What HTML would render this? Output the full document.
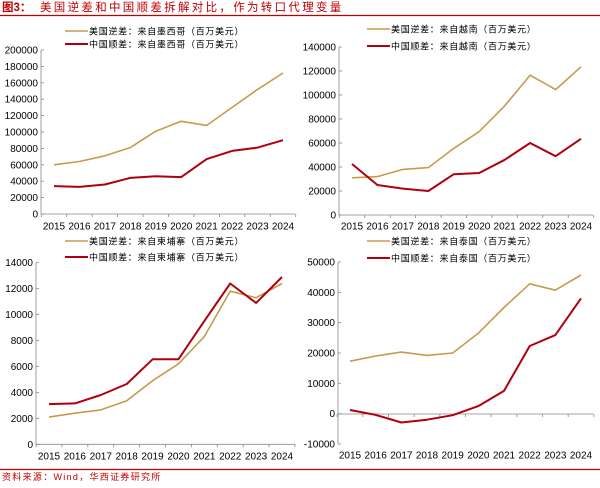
<!DOCTYPE html>
<html><head><meta charset="utf-8"><style>
body{margin:0;background:#fff;width:600px;height:483px;overflow:hidden}
svg text{font-family:"Liberation Sans","Noto Sans CJK SC",sans-serif}
</style></head><body>
<svg id="s" width="600" height="483" xmlns="http://www.w3.org/2000/svg"></svg>
<script>
const s=document.getElementById('s');let h='';
const SF='font-family="Noto Serif CJK SC, serif"';
h+=`<text x="2" y="11" font-size="11.5" fill="#c00000" font-weight="bold" ${SF}>图3：</text>`;
h+=`<text x="40" y="11" font-size="11.5" fill="#c00000" letter-spacing="2.3" ${SF}>美国逆差和中国顺差拆解对比，作为转口代理变量</text>`;
h+='<line x1="0" y1="15.5" x2="600" y2="15.5" stroke="#c00000" stroke-width="1.2"/>';
h+='<line x1="0" y1="469.5" x2="600" y2="469.5" stroke="#c00000" stroke-width="1.2"/>';
h+=`<text x="2" y="480" font-size="9" fill="#c00000" letter-spacing="1.3" ${SF}>资料来源：Wind，华西证券研究所</text>`;
const P=[
{ax:41,x0:54,x1:283,right:295,ymax:200000,ymin:0,step:20000,yt:50,yb:214,y0:214,lab:226,ly:[31,44],lx:65,name:'墨西哥',
us:[60000,64000,71000,81000,101000,113000,108000,130000,152000,172000],cn:[34000,33000,36000,44000,46000,45000,67000,77000,81000,90000]},
{ax:339,x0:352,x1:581,right:593,ymax:140000,ymin:0,step:20000,yt:47,yb:215,y0:215,lab:226,ly:[29,46],lx:367,name:'越南',
us:[31000,32000,38000,39500,55500,69500,91000,116500,104500,123500],cn:[42500,25000,22000,20000,34000,35000,46000,60000,49000,63500]},
{ax:36,x0:49,x1:282,right:295,ymax:14000,ymin:0,step:2000,yt:262.7,yb:444.3,y0:444.3,lab:456,ly:[241,257],lx:65,name:'柬埔寨',
us:[2100,2400,2650,3350,4900,6200,8300,11800,11300,12400],cn:[3100,3150,3800,4650,6550,6550,9500,12400,10900,12900]},
{ax:338,x0:350,x1:581,right:593,ymax:50000,ymin:-10000,step:10000,yt:262,yb:444,y0:414,lab:455,ly:[241,258],lx:367,name:'泰国',
us:[17300,19000,20300,19200,20000,26500,35000,42800,40700,45700],cn:[1200,-400,-2900,-2000,-500,2500,7500,22300,25900,38000]}];
for(const p of P){
 const Y=v=>p.yb-(v-p.ymin)/(p.ymax-p.ymin)*(p.yb-p.yt);
 const dx=(p.x1-p.x0)/9;const X=i=>p.x0+i*dx;
 h+=`<line x1="${p.ax}" y1="${p.yt}" x2="${p.ax}" y2="${p.yb}" stroke="#888" stroke-width="0.8"/>`;
 h+=`<line x1="${p.ax}" y1="${p.y0}" x2="${p.right}" y2="${p.y0}" stroke="#888" stroke-width="0.8"/>`;
 for(let v=p.ymin;v<=p.ymax;v+=p.step){const y=Y(v);
  h+=`<line x1="${p.ax}" y1="${y}" x2="${p.ax+3}" y2="${y}" stroke="#888" stroke-width="0.8"/>`;
  h+=`<text x="${p.ax-3}" y="${y+3.5}" font-size="10" text-anchor="end" fill="#000">${v}</text>`;}
 for(let i=0;i<=10;i++){const x=p.x0-dx/2+i*dx;h+=`<line x1="${x}" y1="${p.y0}" x2="${x}" y2="${p.y0+3}" stroke="#888" stroke-width="0.8"/>`;}
 for(let i=0;i<10;i++)h+=`<text x="${X(i)}" y="${p.lab+3.5}" font-size="10" text-anchor="middle">${2015+i}</text>`;
 const pl=(d,c,w)=>`<polyline fill="none" stroke="${c}" stroke-width="${w}" stroke-linejoin="round" points="${d.map((v,i)=>X(i).toFixed(1)+','+Y(v).toFixed(1)).join(' ')}"/>`;
 h+=pl(p.us,'#c89a4c',1.6);h+=pl(p.cn,'#b00010',2);
 h+=`<line x1="${p.lx}" y1="${p.ly[0]}" x2="${p.lx+23}" y2="${p.ly[0]}" stroke="#c89a4c" stroke-width="1.6"/>`;
 h+=`<line x1="${p.lx}" y1="${p.ly[1]}" x2="${p.lx+23}" y2="${p.ly[1]}" stroke="#b00010" stroke-width="2"/>`;
 h+=`<text x="${p.lx+24}" y="${p.ly[0]+3.5}" font-size="9" letter-spacing="0.7" ${SF}>美国逆差：来自${p.name}（百万美元）</text>`;
 h+=`<text x="${p.lx+24}" y="${p.ly[1]+3.5}" font-size="9" letter-spacing="0.7" ${SF}>中国顺差：来自${p.name}（百万美元）</text>`;
}
s.innerHTML=h;
</script>
</body></html>
